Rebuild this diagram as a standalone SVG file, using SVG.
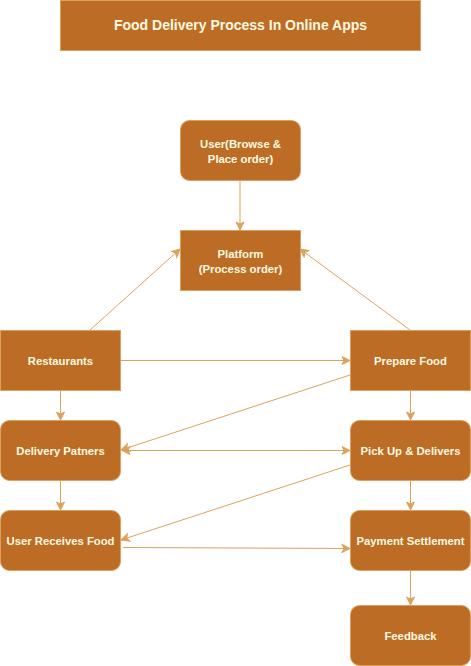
<svg xmlns="http://www.w3.org/2000/svg" width="471" height="666" viewBox="0 0 471 666">
<defs>
<marker id="ah" markerWidth="10" markerHeight="10" viewBox="0 0 10 10" refX="9" refY="5" orient="auto" markerUnits="userSpaceOnUse">
<path d="M1,1 L9,5 L1,9 L3,5 Z" fill="#DDA15E" stroke="#DDA15E" stroke-width="1"/>
</marker>
<marker id="ahs" markerWidth="10" markerHeight="10" viewBox="0 0 10 10" refX="1" refY="5" orient="auto" markerUnits="userSpaceOnUse">
<path d="M9,1 L1,5 L9,9 L7,5 Z" fill="#DDA15E" stroke="#DDA15E" stroke-width="1"/>
</marker>
</defs>
<style>
.n{fill:#BC6C25;stroke:#DDA15E;stroke-width:1}
.t{fill:#FEFAE0;font-family:"Liberation Sans",Arial,sans-serif;font-weight:bold;font-size:11.3px;text-anchor:middle}
.e{fill:none;stroke:#DDA15E;stroke-width:1;marker-end:url(#ah)}
</style>
<rect width="471" height="666" fill="#FFFFFF"/>
<g id="title">
<rect class="n" x="60.5" y="0.5" width="360" height="50"/>
<text class="t" x="240.5" y="30" style="font-size:14px">Food Delivery Process In Online Apps</text>
</g>
<g id="connectors">
<line class="e" x1="240" y1="180.5" x2="240" y2="230"/>
<line class="e" x1="90" y1="330" x2="180" y2="249"/>
<line class="e" x1="410" y1="330" x2="300" y2="249"/>
<line class="e" x1="120.5" y1="360.5" x2="350" y2="360.5"/>
<line class="e" x1="350" y1="375" x2="121" y2="450"/>
<line class="e" x1="122" y1="450.5" x2="350" y2="450.5" style="marker-start:url(#ahs)"/>
<line class="e" x1="350" y1="465" x2="121" y2="540"/>
<line class="e" x1="123" y1="547.5" x2="350" y2="548.5"/>
<line class="e" x1="60.5" y1="390.5" x2="60.5" y2="420"/>
<line class="e" x1="60.5" y1="480.5" x2="60.5" y2="510"/>
<line class="e" x1="410.5" y1="390.5" x2="410.5" y2="420"/>
<line class="e" x1="410.5" y1="480.5" x2="410.5" y2="510"/>
<line class="e" x1="410.5" y1="570.5" x2="410.5" y2="605"/>
</g>
<g id="user">
<rect class="n" x="180.5" y="120.5" width="120" height="60" rx="9"/>
<text class="t" x="240.5" y="148">User(Browse &amp;</text>
<text class="t" x="240.5" y="163">Place order)</text>
</g>
<g id="platform">
<rect class="n" x="180.5" y="230.5" width="120" height="60"/>
<text class="t" x="240.5" y="258">Platform</text>
<text class="t" x="240.5" y="273">(Process order)</text>
</g>
<g id="restaurants">
<rect class="n" x="0.5" y="330.5" width="120" height="60"/>
<text class="t" x="60.5" y="365">Restaurants</text>
</g>
<g id="prepare">
<rect class="n" x="350.5" y="330.5" width="120" height="60"/>
<text class="t" x="410.5" y="365">Prepare Food</text>
</g>
<g id="delivery">
<rect class="n" x="0.5" y="420.5" width="120" height="60" rx="9"/>
<text class="t" x="60.5" y="455">Delivery Patners</text>
</g>
<g id="pickup">
<rect class="n" x="350.5" y="420.5" width="120" height="60" rx="9"/>
<text class="t" x="410.5" y="455">Pick Up &amp; Delivers</text>
</g>
<g id="receives">
<rect class="n" x="0.5" y="510.5" width="120" height="60" rx="9"/>
<text class="t" x="60.5" y="545">User Receives Food</text>
</g>
<g id="payment">
<rect class="n" x="350.5" y="510.5" width="120" height="60" rx="9"/>
<text class="t" x="410.5" y="545">Payment Settlement</text>
</g>
<g id="feedback">
<rect class="n" x="350.5" y="605.5" width="120" height="60" rx="9"/>
<text class="t" x="410.5" y="640">Feedback</text>
</g>
</svg>
